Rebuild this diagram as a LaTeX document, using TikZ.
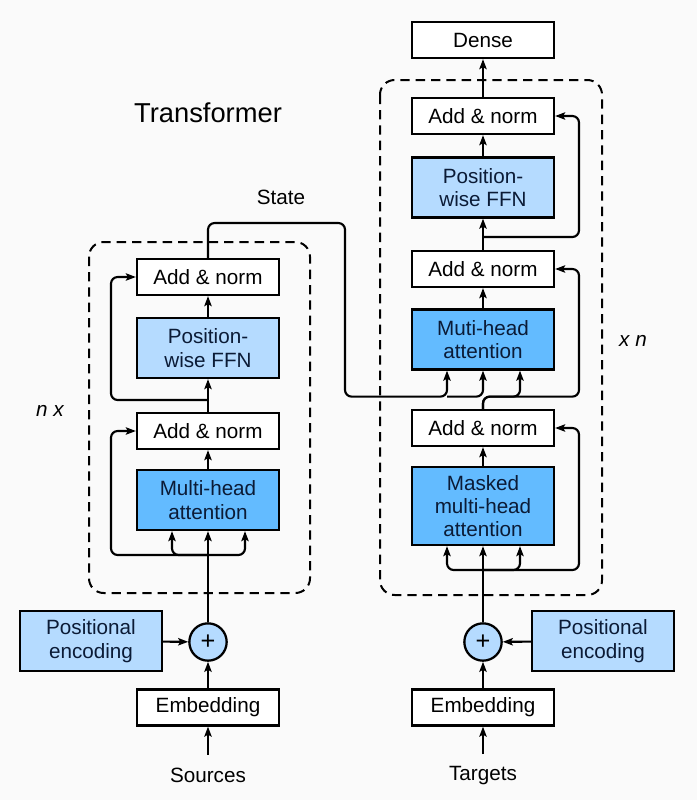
\documentclass[tikz,border=0pt]{standalone}
\usepackage{fontspec}
\setmainfont{Liberation Sans}
\usetikzlibrary{calc}
\usetikzlibrary{arrows.meta}

\definecolor{attblue}{HTML}{63BBFF}
\definecolor{ffnblue}{HTML}{B5DBFF}
\definecolor{navy}{HTML}{0B1B36}
\definecolor{paper}{HTML}{FAFAFA}

\begin{document}
\begin{tikzpicture} [x=.75pt, y=-.75pt,
  box/.style={draw, line width=1.7pt, fill=white, minimum width=106.5pt, minimum height=27pt, inner sep=1pt, align=center, font=\fontsize{15.5}{17.5}\selectfont},
  ffn/.style={box, fill=ffnblue, text=navy, minimum height=45pt},
  att/.style={box, fill=attblue, text=navy, minimum height=45pt},
  plus/.style={circle, draw, line width=1.7pt, fill=ffnblue, minimum size=28pt, inner sep=0pt, font=\fontsize{19}{20}\selectfont},
  lbl/.style={font=\fontsize{15.5}{17.5}\selectfont},
  arr/.style={line width=1.6pt, -{Stealth[length=7.5pt, width=5.5pt, inset=1.5pt]}, rounded corners=5pt},
  stack/.style={line width=1.5pt, dash pattern=on 7pt off 4.5pt, rounded corners=11pt}]

\fill[paper] (0,0) rectangle (697,800);

% dashed stacks
\draw[stack] (89,242) rectangle (310,593);
\draw[stack] (380,80) rectangle (602,595);

% encoder
\node[box] (eadd2) at (208,277) {Add \& norm};
\node[ffn] (effn)  at (208,348) {Position-\\wise FFN};
\node[box] (eadd1) at (208,431) {Add \& norm};
\node[att] (eatt)  at (208,500) {Multi-head\\attention};
\node[plus] (eplus) at (208,642) {+};
\node[ffn] (epos)  at (91,641) {Positional\\encoding};
\node[box] (eemb)  at (208,707.5) {Embedding};
\node[lbl] (src)   at (208,775) {Sources};

% decoder
\node[box] (dense) at (483,40) {Dense};
\node[box] (dadd3) at (483,116) {Add \& norm};
\node[ffn] (dffn)  at (483,187.5) {Position-\\wise FFN};
\node[box] (dadd2) at (483,269) {Add \& norm};
\node[att] (datt)  at (483,339.5) {Muti-head\\attention};
\node[box] (dadd1) at (483,428) {Add \& norm};
\node[att, minimum height=58.5pt] (dmatt) at (483,506) {Masked\\multi-head\\attention};
\node[plus] (dplus) at (483,642) {+};
\node[ffn] (dpos)  at (603,641) {Positional\\encoding};
\node[box] (demb)  at (483,707.5) {Embedding};
\node[lbl] (tgt)   at (483,776) {Targets};

% labels
\node[font=\fontsize{20.5}{24}\selectfont] (title) at (208,113) {Transformer};
\node[lbl] (state) at (281,197) {State};
\node[lbl, font=\fontsize{15.5}{17.5}\itshape] (encn) at (50,411) {n x};
\node[lbl, font=\fontsize{15.5}{17.5}\itshape] (decn) at (633,341) {x n};

% straight connectors
\foreach \a/\b in {eemb/eplus, eplus/eatt, eatt/eadd1, eadd1/effn, effn/eadd2, demb/dplus, dplus/dmatt, dmatt/dadd1, datt/dadd2, dadd2/dffn, dffn/dadd3, dadd3/dense}
  \draw[arr] (\a) -- (\b);
\draw[arr] (epos) -- (eplus);
\draw[arr] (dpos) -- (dplus);
\draw[arr, shorten <=6pt] (src) -- (eemb);
\draw[arr, shorten <=6pt] (tgt) -- (demb);

% encoder residuals
\coordinate (efork) at (208,555);
\coordinate (ebr) at (208,400);
\draw[arr] (efork) -| ($(eatt.south)+(-36,0)$);
\draw[arr] (efork) -| ($(eatt.south)+(37,0)$);
\draw[arr] (efork) -- ++(-97,0) |- (eadd1.west);
\draw[arr] (ebr) -- ++(-97,0) |- (eadd2.west);

% state to decoder
\coordinate (dk) at ($(datt.south)+(-36,0)$);
\coordinate (dq) at ($(datt.south)+(37,0)$);
\coordinate (s1) at (345,223);
\draw[arr] (eadd2.north) |- (s1) |- ($(dk)+(0,26)$) -- (dk);
\draw[arr] ($(dk)+(0,26)$) -| (datt.south);

% decoder residuals
\coordinate (dfork) at (483,570);
\coordinate (dbr) at (483,237);
\draw[arr] (dfork) -| ($(dmatt.south)+(-36,0)$);
\draw[arr] (dfork) -| ($(dmatt.south)+(37,0)$);
\draw[arr] (dfork) -- ++(96,0) |- (dadd1.east);
\draw[arr] (dadd1.north) |- ($(dq)+(0,26)$) -- (dq);
\draw[arr] (dadd1.north) |- ($(dq)+(59,26)$) |- (dadd2.east);
\draw[arr] (dbr) -- ++(96,0) |- (dadd3.east);

\end{tikzpicture}
\end{document}
